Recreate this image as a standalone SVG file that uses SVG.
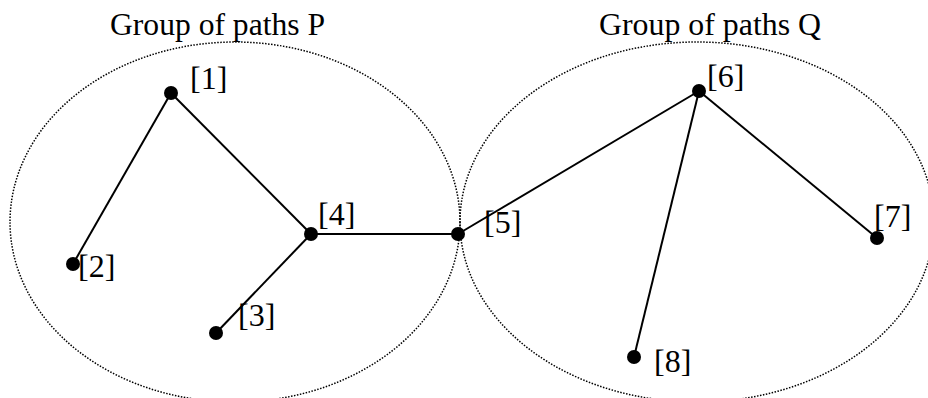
<svg xmlns="http://www.w3.org/2000/svg" width="928" height="398" viewBox="0 0 928 398">
<style>
.grp{fill:none;stroke:#000;stroke-width:1.5;stroke-dasharray:1.5 1.5}
.edge{stroke:#000;stroke-width:2;fill:none}
.dot{fill:#000}
text{font-family:"Liberation Serif","Times New Roman",serif;font-size:32px;fill:#000}
</style>
<rect width="928" height="398" fill="#fff"/>
<g id="groupP">
<ellipse class="grp" cx="235" cy="222" rx="225" ry="180"/>
<text x="110" y="35" textLength="215" lengthAdjust="spacingAndGlyphs">Group of paths P</text>
</g>
<g id="groupQ">
<ellipse class="grp" cx="697" cy="222" rx="237" ry="180"/>
<text x="599" y="35" textLength="222" lengthAdjust="spacingAndGlyphs">Group of paths Q</text>
</g>
<g id="connectors">
<line class="edge" x1="171" y1="93" x2="73" y2="264"/>
<line class="edge" x1="171" y1="93" x2="311" y2="234"/>
<line class="edge" x1="311" y1="234" x2="216" y2="333"/>
<line class="edge" x1="311" y1="234" x2="458" y2="234"/>
<line class="edge" x1="458" y1="234" x2="699" y2="91"/>
<line class="edge" x1="699" y1="91" x2="877" y2="238"/>
<line class="edge" x1="699" y1="91" x2="634" y2="357"/>
</g>
<g id="n1"><circle class="dot" cx="171" cy="93" r="7"/><text x="190" y="89">[1]</text></g>
<g id="n2"><circle class="dot" cx="73" cy="264" r="7"/><text x="78" y="277">[2]</text></g>
<g id="n3"><circle class="dot" cx="216" cy="333" r="7"/><text x="238" y="326">[3]</text></g>
<g id="n4"><circle class="dot" cx="311" cy="234" r="7"/><text x="318" y="225">[4]</text></g>
<g id="n5"><circle class="dot" cx="458" cy="234" r="7"/><text x="484" y="233">[5]</text></g>
<g id="n6"><circle class="dot" cx="699" cy="91" r="7"/><text x="707" y="87">[6]</text></g>
<g id="n7"><circle class="dot" cx="877" cy="238" r="7"/><text x="874" y="227">[7]</text></g>
<g id="n8"><circle class="dot" cx="634" cy="357" r="7"/><text x="654" y="372">[8]</text></g>
</svg>
